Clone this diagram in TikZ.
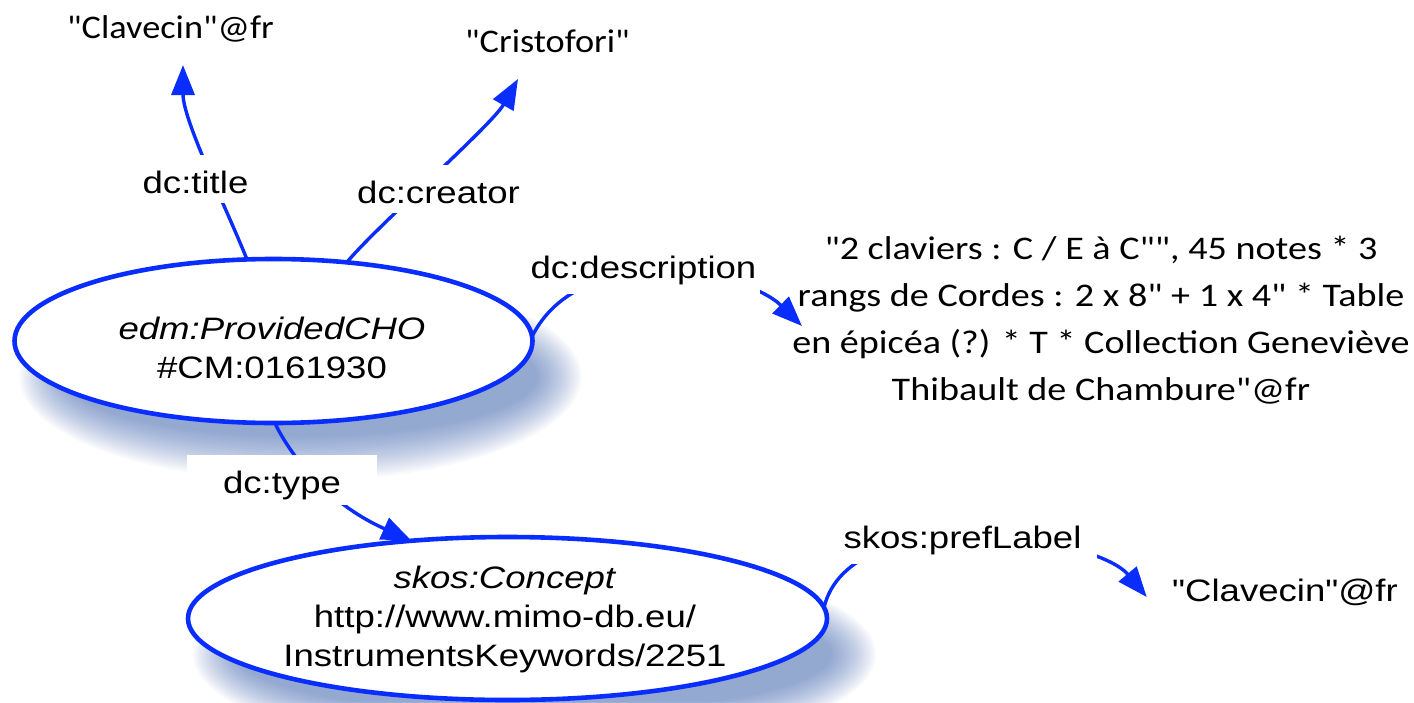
\documentclass[tikz,border=0pt]{standalone}
\usepackage{fontspec}
\setmainfont{Liberation Sans}
\newfontfamily\af[FakeStretch=1.18,Ligatures=TeXOff]{Liberation Sans}
\newfontfamily\cf[FakeStretch=1.1,Ligatures=TeXOff]{Carlito}
\newfontfamily\cfd[FakeStretch=1.155,Ligatures=TeXOff]{Carlito}
\usetikzlibrary{arrows.meta,calc,shapes.geometric}
\definecolor{rdfblue}{RGB}{10,45,255}
\definecolor{shadowblue}{RGB}{60,100,180}
\begin{document}
\begin{tikzpicture}[x=0.5pt,y=-0.5pt,
  res/.style={ellipse, draw=rdfblue, fill=white, line width=2.3pt, inner sep=0pt, outer sep=0pt},
  conn/.style={draw=rdfblue, line width=1.7pt},
  arr/.style={conn, -{Triangle[length=15pt,width=11.5pt]}},
  lbl/.style={font=\af\fontsize{15.5}{19}\selectfont, fill=white, inner xsep=1pt, inner ysep=0pt, text height=19pt, text depth=5pt, anchor=base},
  restext/.style={font=\af\fontsize{15.5}{19.5}\selectfont, align=center, inner sep=0pt},
  lit/.style={font=\cf\fontsize{16.5}{23.5}\selectfont, inner sep=0pt, anchor=base},
  arlit/.style={font=\af\fontsize{15.5}{19}\selectfont, inner sep=0pt, anchor=base},
]
\fill[white] (0,0) rectangle (1414,702);
\useasboundingbox (0,0) rectangle (1414,702);

% soft shadows
\foreach \cx/\cy/\ra/\rb in {300.5/377/129.5/41, 534.5/654.5/159.75/40.75}{
  \foreach \i in {0,...,19}{
    \pgfmathsetmacro\rr{-11+\i*22/19}
    \pgfmathsetmacro\rx{\ra+\rr}
    \pgfmathsetmacro\ry{\rb+\rr}
    \fill[shadowblue, opacity=0.037] (\cx,\cy) ellipse [x radius=\rx pt, y radius=\ry pt];
  }
}

% resources
\node[res, minimum width=259pt, minimum height=82pt] (cho) at (273.5,341) {};
\node[res, minimum width=319.5pt, minimum height=81.5pt] (concept) at (507.5,618.5) {};
\node[restext] (choT) at (272,347.5) {\textit{edm:ProvidedCHO}\\\#CM:0161930};
\node[restext] (conceptT) at (505,619.5) {\textit{skos:Concept}\\http://www.mimo-db.eu/\\InstrumentsKeywords/2251};

% literals
\node[lit] (tclav) at (170.5,38) {"Clavecin"@fr};
\node[lit] (tcris) at (547.5,52) {"Cristofori"};
\node[lit, font=\cfd\fontsize{16.5}{23.5}\selectfont, anchor=center, align=center] (desc) at (1101,320) {"2 claviers : C / E à C"", 45 notes * 3\\rangs de Cordes : 2 x 8" + 1 x 4" * Table\\en épicéa (?) * T * Collection Geneviève\\Thibault de Chambure"@fr};
\node[arlit] (clav2) at (1285,601) {"Clavecin"@fr};

% connectors
\draw[arr] (cho.108) .. controls (225,205) and (183,120) .. ($(tclav.base)+(12.5,27)$);
\draw[arr] (cho.47) .. controls (375,228) and (492,125) .. ($(tcris.base)+(-29.5,27)$);
\draw[arr] (cho.1) .. controls (580,240) and (745,270) .. ($(desc.west)+(10,6)$);
\draw[arr] (cho.-89) .. controls (285,445) and (320,500) .. (concept.141);
\draw[arr] (concept.2) .. controls (850,500) and (1095,535) .. ($(clav2.base west)+(-25,-4)$);

% property labels
\node[lbl] (lt) at (195.5,193) {dc:title};
\node[lbl] (lc) at (438.5,203) {dc:creator};
\node[lbl, text depth=8pt, inner xsep=2pt] (ld) at (643.5,278) {dc:description};
\node[lbl, minimum width=95pt, text depth=6pt] (lty) at (282,493) {dc:type};
\node[lbl, inner xsep=8pt, text depth=8pt] (lp) at (962.5,548) {skos:prefLabel};
\end{tikzpicture}
\end{document}
